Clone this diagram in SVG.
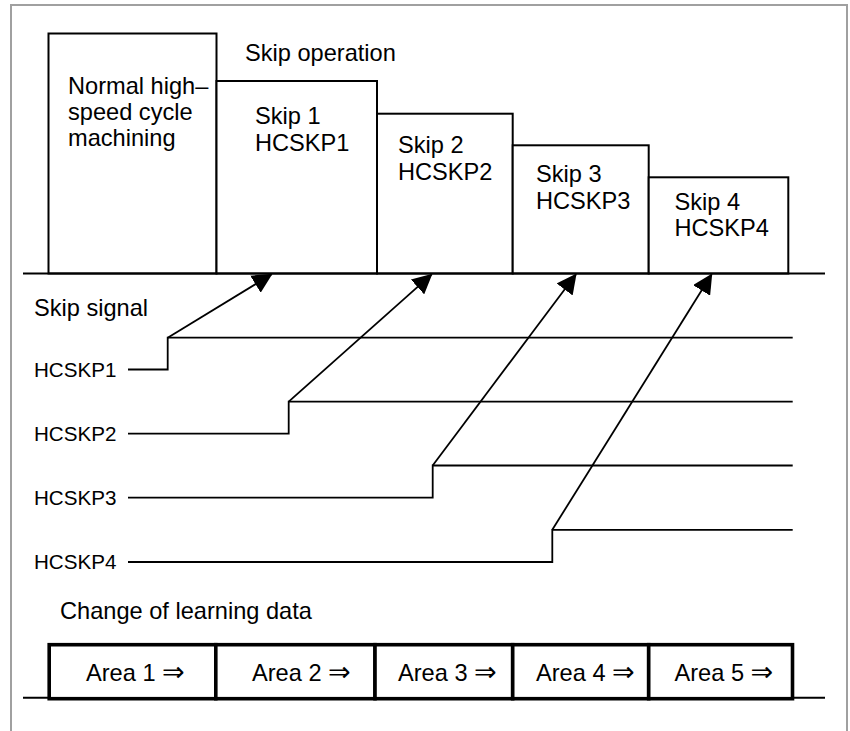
<svg xmlns="http://www.w3.org/2000/svg" width="850" height="731" viewBox="0 0 850 731">
<defs>
<style>
text{font-family:"Liberation Sans",Arial,Helvetica,sans-serif;fill:#000}
.t{font-size:23.6px}
.s{font-size:20.6px}
.box{fill:#fff;stroke:#000;stroke-width:2}
.ln{fill:none;stroke:#000;stroke-width:2}
.sig{fill:none;stroke:#000;stroke-width:1.8}
.area{fill:#fff;stroke:#000;stroke-width:3.6}
.frame{fill:none;stroke:#a0a0a0;stroke-width:2}
.arr{font-family:"DejaVu Sans",sans-serif;font-size:27px}
</style>
<marker id="ah" viewBox="0 0 20 20" refX="19" refY="10" markerWidth="20" markerHeight="20" markerUnits="userSpaceOnUse" orient="auto">
<path d="M0,0 L20,10 L0,20 Z" fill="#000"/>
</marker>
</defs>
<rect width="850" height="731" fill="#fff"/>
<path class="frame" d="M11,731 V5 H847 V731"/>

<g id="machining-blocks">
<g id="normal"><rect class="box" x="48.5" y="33.5" width="168" height="240"/>
<text class="t" x="68" y="94">Normal high–</text>
<text class="t" x="68" y="120">speed cycle</text>
<text class="t" x="68" y="146">machining</text></g>
<g id="skip1"><rect class="box" x="216.5" y="81" width="160.5" height="192.5"/>
<text class="t" x="255" y="124">Skip 1</text>
<text class="t" x="255" y="151">HCSKP1</text></g>
<g id="skip2"><rect class="box" x="377" y="113.7" width="135.7" height="159.8"/>
<text class="t" x="398" y="153">Skip 2</text>
<text class="t" x="398" y="180">HCSKP2</text></g>
<g id="skip3"><rect class="box" x="512.7" y="145.3" width="136" height="128.2"/>
<text class="t" x="536" y="182">Skip 3</text>
<text class="t" x="536" y="208.5">HCSKP3</text></g>
<g id="skip4"><rect class="box" x="648.7" y="177.3" width="139.6" height="96.2"/>
<text class="t" x="674.5" y="209.5">Skip 4</text>
<text class="t" x="674.5" y="236">HCSKP4</text></g>
</g>
<text class="t" x="245" y="61">Skip operation</text>
<text class="t" x="34" y="316">Skip signal</text>

<g id="signals">
<line class="ln" x1="23" y1="273.5" x2="825" y2="273.5"/>
<path class="sig" d="M128,369.5 H167.7 V337.7 H792.7"/>
<path class="sig" d="M128,433.7 H288.7 V401.7 H792.7"/>
<path class="sig" d="M128,497.7 H432.7 V465.5 H792.7"/>
<path class="sig" d="M128,562 H552.3 V529.8 H792.7"/>
<line class="sig" x1="167.7" y1="337.7" x2="271.7" y2="274.3" marker-end="url(#ah)"/>
<line class="sig" x1="288.7" y1="401.7" x2="431.7" y2="274.3" marker-end="url(#ah)"/>
<line class="sig" x1="432.7" y1="465.5" x2="576" y2="274.3" marker-end="url(#ah)"/>
<line class="sig" x1="552.3" y1="529.8" x2="711.7" y2="274.3" marker-end="url(#ah)"/>
</g>
<text class="s" x="34" y="377">HCSKP1</text>
<text class="s" x="34" y="441">HCSKP2</text>
<text class="s" x="34" y="505">HCSKP3</text>
<text class="s" x="34" y="569">HCSKP4</text>

<text class="t" x="60" y="618.5">Change of learning data</text>
<line class="ln" x1="23" y1="697.7" x2="825" y2="697.7"/>
<g id="areas">
<g id="area1"><rect class="area" x="49.2" y="644.7" width="166.6" height="54"/><text class="t" x="86" y="681">Area 1 <tspan class="arr">⇒</tspan></text></g>
<g id="area2"><rect class="area" x="215.8" y="644.7" width="159.2" height="54"/><text class="t" x="252" y="681">Area 2 <tspan class="arr">⇒</tspan></text></g>
<g id="area3"><rect class="area" x="375" y="644.7" width="137.7" height="54"/><text class="t" x="398" y="681">Area 3 <tspan class="arr">⇒</tspan></text></g>
<g id="area4"><rect class="area" x="512.7" y="644.7" width="136" height="54"/><text class="t" x="536" y="681">Area 4 <tspan class="arr">⇒</tspan></text></g>
<g id="area5"><rect class="area" x="648.7" y="644.7" width="143.8" height="54"/><text class="t" x="674.5" y="681">Area 5 <tspan class="arr">⇒</tspan></text></g>
</g>
</svg>
